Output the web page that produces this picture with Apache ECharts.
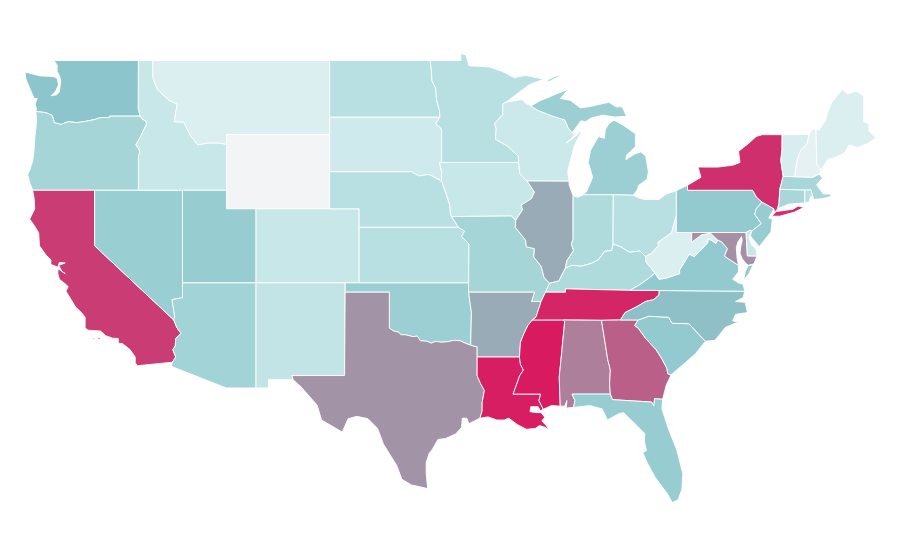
<!DOCTYPE html>
<html>
<head>
<meta charset="utf-8">
<title>US states</title>
<script src="https://cdn.jsdelivr.net/npm/echarts@6/dist/echarts.min.js"></script>
<style>
html, body { margin: 0; padding: 0; background: #fff; }
#map_chart { width: 900px; height: 560px; }
</style>
</head>
<body>
<div id="map_chart"></div>
<script>
var stateNames = ['Washington', 'Oregon', 'California', 'Nevada', 'Idaho', 'Montana', 'Wyoming', 'Utah', 'Arizona', 'Colorado', 'New Mexico',
    'North Dakota', 'South Dakota', 'Nebraska', 'Kansas', 'Oklahoma', 'Texas', 'Minnesota', 'Iowa', 'Missouri', 'Arkansas', 'Louisiana',
    'Wisconsin', 'Illinois', 'Mississippi', 'Michigan', 'Indiana', 'Ohio', 'Kentucky', 'Tennessee', 'Alabama', 'Georgia', 'Florida',
    'South Carolina', 'North Carolina', 'Virginia', 'West Virginia', 'Pennsylvania', 'Maryland', 'Delaware', 'New Jersey', 'New York',
    'Connecticut', 'Rhode Island', 'Massachusetts', 'Vermont', 'New Hampshire', 'Maine'];
var stateValues = [50, 38, 90, 44, 22, 12, 0, 45, 40, 22, 25,
    29, 19, 29, 29, 43, 65, 29, 22, 38, 58, 99,
    21, 58, 100, 43, 33, 29, 33, 97, 71, 80, 45,
    47, 52, 47, 12, 47, 66, 22, 45, 94,
    37, 30, 37, 14, 7, 12];
var colorStops = ['#f3f4f6', '#dff0f2', '#cde9eb', '#b6dee0', '#a2d3d6', '#8cc6cc', '#9ba4b2', '#ab829c', '#ba6088', '#c93d74', '#d81b60'];

// state borders in lon/lat, each one shared by the two states that touch it
var b = {
    wa_top: [[-122.76,49],[-117.03,49]],
    wa_coast: [[-122.76,49],[-122.55,48.75],[-122.55,48.4],[-122.4,48.2],[-122.3,47.9],[-122.35,47.6],[-122.4,47.3],[-122.6,47.15],[-122.95,47.1],[-122.65,47.35],[-122.45,47.7],[-122.55,48.05],[-122.75,48.12],[-123.1,48.15],[-123.7,48.17],[-124.73,48.38],[-124.65,47.95],[-124.35,47.4],[-124.1,46.95],[-123.9,46.95],[-124.05,46.65],[-123.95,46.4],[-124.0,46.25]],
    wa_or: [[-124.0,46.25],[-123.4,46.2],[-123.2,46.15],[-122.9,46.05],[-122.8,45.85],[-122.75,45.65],[-122.3,45.55],[-121.8,45.7],[-121.2,45.65],[-120.6,45.72],[-120.0,45.82],[-119.6,45.92],[-119.0,45.93],[-118.98,46.0],[-116.92,46.0]],
    wa_id: [[-117.03,49],[-117.04,46.42],[-116.92,46.0]],
    or_coast: [[-124.0,46.25],[-123.95,45.9],[-123.97,45.5],[-124.07,44.8],[-124.12,44.1],[-124.2,43.6],[-124.4,43.1],[-124.55,42.84],[-124.4,42.4],[-124.21,42]],
    or_ca: [[-124.21,42],[-120,42]],
    or_nv: [[-120,42],[-117.03,42]],
    or_id: [[-116.92,46],[-116.78,45.85],[-116.55,45.75],[-116.46,45.6],[-116.68,45.25],[-116.85,44.95],[-117.2,44.45],[-117.03,44.25],[-116.93,44.1],[-117.03,43.8],[-117.03,42]],
    ca_coast: [[-124.21,42],[-124.1,41.5],[-124.07,41.0],[-124.41,40.44],[-124.1,40.1],[-123.8,39.7],[-123.75,39.0],[-123.3,38.5],[-122.97,38.25],[-122.98,38.0],[-122.5,37.85],[-122.4,38.1],[-122.0,38.08],[-122.25,38.0],[-122.45,37.95],[-122.2,37.6],[-122.0,37.5],[-122.35,37.7],[-122.5,37.75],[-122.5,37.5],[-122.4,37.2],[-122.0,36.95],[-121.8,36.8],[-121.95,36.55],[-121.6,36.1],[-121.3,35.7],[-120.9,35.4],[-120.65,35.15],[-120.65,34.57],[-120.45,34.45],[-119.6,34.4],[-119.25,34.15],[-118.8,34.02],[-118.4,34.0],[-118.4,33.75],[-118.1,33.72],[-117.6,33.4],[-117.25,33.0],[-117.25,32.7],[-117.12,32.53]],
    ca_mx: [[-117.12,32.53],[-114.72,32.72]],
    ca_az: [[-114.72,32.72],[-114.5,33.0],[-114.7,33.4],[-114.53,33.6],[-114.5,34.0],[-114.14,34.27],[-114.43,34.6],[-114.63,35]],
    ca_nv: [[-114.63,35],[-120,39],[-120,42]],
    id_top: [[-117.03,49],[-116.05,49]],
    id_mt: [[-116.05,49],[-116.05,48.05],[-115.75,47.45],[-114.95,46.85],[-114.4,46.65],[-114.6,45.7],[-113.95,45.68],[-113.5,44.95],[-113.0,44.45],[-112.3,44.55],[-111.55,44.55],[-111.05,44.48]],
    id_wy: [[-111.05,44.48],[-111.05,42]],
    id_ut: [[-111.05,42],[-114.04,42]],
    id_nv: [[-114.04,42],[-117.03,42]],
    nv_ut: [[-114.04,42],[-114.04,37]],
    nv_az: [[-114.04,37],[-114.04,36.2],[-114.75,36.1],[-114.57,35.2],[-114.63,35]],
    az_ut: [[-114.04,37],[-109.05,37]],
    az_nm: [[-109.05,37],[-109.05,31.33]],
    az_mx: [[-109.05,31.33],[-111.07,31.33],[-114.81,32.5],[-114.72,32.72]],
    ut_wy: [[-111.05,42],[-111.05,41],[-109.05,41]],
    ut_co: [[-109.05,41],[-109.05,37]],
    mt_top: [[-116.05,49],[-104.05,49]],
    mt_nd: [[-104.05,49],[-104.05,45.94]],
    mt_sd: [[-104.05,45.94],[-104.05,45]],
    mt_wy: [[-104.05,45],[-111.05,45],[-111.05,44.48]],
    wy_sd: [[-104.05,45],[-104.05,43]],
    wy_ne: [[-104.05,43],[-104.05,41]],
    wy_co: [[-104.05,41],[-109.05,41]],
    co_ne: [[-104.05,41],[-102.05,41],[-102.05,40]],
    co_ks: [[-102.05,40],[-102.05,37]],
    co_ok: [[-102.05,37],[-103,37]],
    co_nm: [[-103,37],[-109.05,37]],
    nm_ok: [[-103,37],[-103,36.5]],
    nm_tx: [[-103,36.5],[-103.04,32],[-106.62,32],[-106.53,31.78]],
    nm_mx: [[-106.53,31.78],[-108.21,31.78],[-108.21,31.33],[-109.05,31.33]],
    nd_top: [[-104.05,49],[-97.23,49]],
    nd_mn: [[-97.23,49],[-97.15,48.5],[-97.1,47.9],[-96.85,47.5],[-96.8,46.9],[-96.6,46.3],[-96.56,45.94]],
    nd_sd: [[-96.56,45.94],[-104.05,45.94]],
    sd_mn: [[-96.56,45.94],[-96.85,45.6],[-96.45,45.3],[-96.45,43.5]],
    sd_ia: [[-96.45,43.5],[-96.6,43.5],[-96.45,43.0],[-96.45,42.49]],
    sd_ne: [[-96.45,42.49],[-96.7,42.6],[-97.3,42.85],[-98.0,42.77],[-98.5,43],[-104.05,43]],
    ne_ia: [[-96.45,42.49],[-96.1,41.7],[-95.9,41.2],[-95.85,40.7],[-95.77,40.58]],
    ne_mo: [[-95.77,40.58],[-95.31,40]],
    ne_ks: [[-95.31,40],[-102.05,40]],
    ks_mo: [[-95.31,40],[-94.9,39.8],[-95.1,39.5],[-94.6,39.1],[-94.62,37]],
    ks_ok: [[-94.62,37],[-102.05,37]],
    ok_mo: [[-94.62,37],[-94.62,36.5]],
    ok_ar: [[-94.62,36.5],[-94.43,35.4],[-94.48,33.64]],
    ok_tx: [[-94.48,33.64],[-94.85,33.75],[-95.2,33.88],[-95.6,33.9],[-96.1,33.82],[-96.5,33.8],[-96.85,33.85],[-97.15,33.75],[-97.45,33.85],[-97.9,33.88],[-98.1,34.13],[-98.4,34.1],[-98.9,34.2],[-99.2,34.2],[-99.4,34.35],[-99.7,34.4],[-100,34.56],[-100,36.5],[-103,36.5]],
    tx_ar: [[-94.48,33.64],[-94.04,33.55],[-94.04,33]],
    tx_la: [[-94.04,33],[-94.04,31.99],[-93.8,31.55],[-93.55,31.2],[-93.7,30.55],[-93.7,30.1],[-93.85,29.7]],
    tx_coast: [[-93.85,29.7],[-94.6,29.4],[-94.75,29.7],[-95.05,29.7],[-95.1,29.2],[-95.5,28.85],[-96.2,28.6],[-96.7,28.55],[-97.1,28.0],[-97.3,27.8],[-97.5,27.3],[-97.5,26.7],[-97.4,25.9]],
    tx_mx: [[-97.4,25.9],[-98.5,26.1],[-99.15,26.4],[-99.5,27.15],[-100.4,28.3],[-100.8,29.15],[-101.45,29.67],[-102.2,29.8],[-102.8,29.67],[-103.2,28.95],[-104.6,29.6],[-104.9,30.4],[-106.0,31.4],[-106.53,31.78]],
    mn_top: [[-97.23,49],[-95.15,49],[-95.15,49.38],[-94.8,49.3],[-94.6,48.72],[-93.2,48.65],[-92.3,48.4],[-91.5,48.07],[-90.8,48.2],[-89.5,48]],
    mn_lake: [[-89.5,48],[-90.5,47.7],[-91.5,47.1],[-92.1,46.75]],
    mn_wi: [[-92.1,46.75],[-92.3,46.66],[-92.3,46.1],[-92.85,45.6],[-92.75,45.3],[-92.8,44.75],[-92.0,44.4],[-91.25,43.85],[-91.22,43.5]],
    mn_ia: [[-91.22,43.5],[-96.45,43.5]],
    ia_wi: [[-91.22,43.5],[-91.15,42.9],[-90.65,42.5]],
    ia_il: [[-90.65,42.5],[-90.15,41.9],[-90.35,41.55],[-91.05,41.2],[-90.95,40.95],[-91.42,40.38]],
    ia_mo: [[-91.42,40.38],[-91.73,40.61],[-95.77,40.58]],
    mo_il: [[-91.42,40.38],[-91.45,40],[-90.75,39.3],[-90.7,38.95],[-90.15,38.85],[-90.2,38.4],[-89.7,37.9],[-89.5,37.3],[-89.13,36.98]],
    mo_ky: [[-89.13,36.98],[-89.4,36.5]],
    mo_tn: [[-89.4,36.5],[-89.7,36]],
    mo_ar: [[-89.7,36],[-90.35,36],[-90.15,36.5],[-94.62,36.5]],
    ar_tn: [[-89.7,36],[-90.05,35.15],[-90.3,35]],
    ar_ms: [[-90.3,35],[-90.6,34.7],[-90.9,34.2],[-91.1,33.8],[-91.17,33]],
    ar_la: [[-91.17,33],[-94.04,33]],
    la_ms: [[-91.17,33],[-91.1,32.6],[-90.9,32.3],[-91.15,32.0],[-91.6,31],[-89.73,31],[-89.85,30.65],[-89.55,30.18]],
    la_coast: [[-89.55,30.18],[-89.75,30.1],[-89.9,30.32],[-90.4,30.32],[-90.45,30.05],[-90.0,30.0],[-89.7,30.0],[-89.45,29.75],[-89.65,29.55],[-89.35,29.3],[-89.15,29.05],[-89.4,29.2],[-89.8,29.3],[-90.1,29.15],[-90.7,29.1],[-91.3,29.35],[-91.9,29.7],[-92.2,29.6],[-92.7,29.6],[-93.3,29.77],[-93.85,29.7]],
    ms_tn: [[-90.3,35],[-88.2,35]],
    ms_al: [[-88.2,35],[-88.1,34.9],[-88.47,31.9],[-88.4,30.35]],
    ms_coast: [[-88.4,30.35],[-89.0,30.38],[-89.55,30.18]],
    al_tn: [[-88.2,35],[-85.6,34.98]],
    al_ga: [[-85.6,34.98],[-85.18,32.87],[-85.0,32.3],[-85.05,31.55],[-85,31]],
    al_fl: [[-85,31],[-87.6,31],[-87.4,30.65],[-87.5,30.28]],
    al_coast: [[-87.5,30.28],[-88.0,30.25],[-87.95,30.65],[-88.1,30.35],[-88.4,30.35]],
    ga_tn: [[-85.6,34.98],[-84.32,35]],
    ga_nc: [[-84.32,35],[-83.11,35]],
    ga_sc: [[-83.11,35],[-83.35,34.7],[-83.1,34.55],[-82.6,34.0],[-81.9,33.4],[-81.5,32.9],[-81.17,32.4],[-81.1,32.1],[-80.88,32.03]],
    ga_coast: [[-80.88,32.03],[-81.2,31.5],[-81.3,31.2],[-81.45,30.72]],
    ga_fl: [[-81.45,30.72],[-82.0,30.75],[-82.05,30.36],[-82.2,30.57],[-84.86,30.7],[-85,31]],
    fl_coast: [[-81.45,30.72],[-81.5,30.2],[-81.05,29.1],[-80.5,28.0],[-80.08,26.7],[-80.15,25.85],[-80.4,25.3],[-80.8,25.15],[-81.15,25.65],[-81.95,26.5],[-82.5,27.3],[-82.8,27.85],[-82.55,27.95],[-82.7,28.5],[-82.65,28.85],[-83.2,29.3],[-84.1,30.0],[-84.4,29.95],[-85.2,29.6],[-85.55,30.2],[-86.4,30.38],[-87.5,30.28]],
    sc_nc: [[-83.11,35],[-82.4,35.2],[-81.05,35.15],[-80.8,34.82],[-79.67,34.8],[-78.55,33.85]],
    sc_coast: [[-78.55,33.85],[-79.2,33.2],[-79.9,32.7],[-80.5,32.3],[-80.88,32.03]],
    nc_va: [[-81.68,36.59],[-75.87,36.55]],
    nc_coast: [[-75.87,36.55],[-76.0,36.2],[-76.5,36.0],[-75.85,35.95],[-75.7,35.4],[-76.5,35.3],[-76.7,34.95],[-76.3,34.9],[-77.2,34.6],[-77.9,33.9],[-78.55,33.85]],
    nc_tn: [[-81.68,36.59],[-81.7,36.35],[-82.05,36.1],[-82.6,36.0],[-83.2,35.72],[-84.0,35.4],[-84.32,35]],
    tn_ky: [[-89.4,36.5],[-88.05,36.5],[-88.05,36.68],[-86.5,36.65],[-83.68,36.6]],
    tn_va: [[-83.68,36.6],[-81.68,36.59]],
    ky_va: [[-83.68,36.6],[-83.1,36.85],[-82.3,37.3],[-81.97,37.54]],
    ky_wv: [[-81.97,37.54],[-82.6,38.15],[-82.6,38.42]],
    ky_oh: [[-82.6,38.42],[-83.0,38.72],[-83.7,38.65],[-84.3,38.95],[-84.82,39.1]],
    ky_in: [[-84.82,39.1],[-84.9,38.75],[-85.4,38.7],[-85.8,38.25],[-86.3,38.05],[-87.0,37.9],[-87.6,37.95],[-88.05,37.8]],
    ky_il: [[-88.05,37.8],[-88.5,37.1],[-89.13,36.98]],
    il_wi: [[-90.65,42.5],[-87.8,42.49]],
    il_lake: [[-87.8,42.49],[-87.8,42.3],[-87.53,41.7]],
    il_in: [[-87.53,41.7],[-87.53,39.35],[-87.65,39.1],[-87.5,38.75],[-87.95,38.2],[-88.05,37.8]],
    wi_lake: [[-92.1,46.75],[-91.0,46.9],[-90.75,46.7],[-90.4,46.55]],
    wi_mi: [[-90.4,46.55],[-89.9,46.3],[-88.85,45.98],[-88.1,45.8],[-87.85,45.35],[-87.6,45.1]],
    wi_shore: [[-87.6,45.1],[-87.35,45.05],[-87.65,44.8],[-88.0,44.55],[-87.55,44.8],[-87.25,45.0],[-87.05,45.25],[-87.0,45.1],[-87.45,44.4],[-87.9,43.0],[-87.8,42.49]],
    in_lake: [[-87.53,41.7],[-87.2,41.62],[-86.82,41.76]],
    in_mi: [[-86.82,41.76],[-84.8,41.76]],
    in_oh: [[-84.8,41.76],[-84.82,39.1]],
    oh_mi: [[-84.8,41.76],[-83.45,41.73]],
    oh_lake: [[-83.45,41.73],[-83.1,41.6],[-82.7,41.5],[-81.7,41.5],[-81.2,41.8],[-80.52,41.98]],
    oh_pa: [[-80.52,41.98],[-80.52,40.64]],
    oh_wv: [[-80.52,40.64],[-80.85,39.7],[-81.75,39.2],[-81.75,39.0],[-82.2,38.6],[-82.6,38.42]],
    mi_east: [[-83.45,41.73],[-83.15,42.05],[-83.1,42.25],[-82.5,42.6],[-82.42,43.0],[-82.6,43.85],[-82.95,44.07],[-83.35,43.95],[-83.95,43.65],[-83.9,43.9],[-83.3,44.35],[-83.3,45.05],[-84.1,45.5],[-84.75,45.78]],
    mi_west: [[-84.75,45.78],[-85.1,45.6],[-85.35,45.25],[-85.4,44.8],[-85.8,44.9],[-86.35,44.15],[-86.5,43.5],[-86.2,42.7],[-86.6,41.95],[-86.82,41.76]],
    mi_up: [[-90.4,46.55],[-89.8,46.82],[-88.5,47.25],[-87.85,47.45],[-88.4,46.95],[-87.7,46.85],[-87.05,46.45],[-86.5,46.5],[-85.1,46.75],[-84.6,46.5],[-84.2,46.5],[-83.9,46.0],[-84.7,45.95],[-85.5,46.05],[-86.3,45.9],[-86.7,45.7],[-87.0,45.75],[-87.6,45.1]],
    wv_pa: [[-80.52,40.64],[-80.52,39.72],[-79.48,39.72]],
    wv_md: [[-79.48,39.72],[-79.48,39.2],[-78.8,39.6],[-78.2,39.68],[-77.72,39.32]],
    wv_va: [[-81.97,37.54],[-81.7,37.2],[-81.25,37.25],[-80.3,37.5],[-80.3,37.7],[-79.95,38.15],[-79.65,38.55],[-79.3,38.42],[-78.87,38.76],[-78.4,39.17],[-78.35,39.4],[-77.83,39.13],[-77.72,39.32]],
    va_md: [[-77.72,39.32],[-77.45,39.22],[-77.05,38.85],[-77.25,38.45],[-76.95,38.28],[-76.3,37.95]],
    va_coast: [[-76.3,37.95],[-76.3,37.6],[-76.7,37.2],[-76.3,37.0],[-76.0,36.93],[-75.87,36.55]],
    md_pa: [[-79.48,39.72],[-75.79,39.72]],
    de_md: [[-75.79,39.72],[-75.7,38.46],[-75.05,38.45]],
    md_coast: [[-75.05,38.45],[-75.25,38.03],[-75.65,37.95],[-75.85,38.1],[-76.05,38.3],[-76.2,38.6],[-76.15,38.95],[-76.05,39.3],[-76.1,39.5],[-76.35,39.2],[-76.45,38.9],[-76.4,38.35],[-76.3,37.95]],
    de_coast: [[-75.4,39.8],[-75.6,39.45],[-75.4,39.05],[-75.1,38.8],[-75.05,38.45]],
    pa_erie: [[-80.52,41.98],[-79.76,42.27]],
    ny_pa: [[-74.7,41.36],[-75.05,41.6],[-75.35,42],[-79.76,42],[-79.76,42.27]],
    pa_nj: [[-74.7,41.36],[-75.1,41.0],[-75.2,40.7],[-74.75,40.2],[-75.4,39.8]],
    pa_de: [[-75.4,39.8],[-75.5,39.83],[-75.79,39.72]],
    nj_coast: [[-75.4,39.8],[-75.5,39.55],[-75.15,39.2],[-74.9,38.95],[-74.1,39.75],[-74.0,40.45],[-74.25,40.5],[-73.9,41]],
    nj_ny: [[-73.9,41],[-74.7,41.36]],
    ny_top: [[-79.76,42.27],[-78.85,42.7],[-79.05,43.25],[-77.7,43.25],[-76.7,43.35],[-76.2,43.5],[-76.3,44.1],[-75.66,44.5],[-75.1,44.9],[-74.7,45.0],[-73.34,45]],
    ny_vt: [[-73.34,45],[-73.35,44.2],[-73.43,43.6],[-73.27,42.75]],
    ny_ma: [[-73.27,42.75],[-73.5,42.05]],
    ny_ct: [[-73.5,42.05],[-73.55,41.3],[-73.65,41]],
    ny_sound: [[-73.65,41],[-73.85,40.8],[-73.9,41]],
    ct_ma: [[-73.5,42.05],[-71.8,42.02]],
    ct_ri: [[-71.8,42.02],[-71.8,41.32]],
    ct_coast: [[-71.8,41.32],[-72.9,41.25],[-73.65,41]],
    ri_ma: [[-71.8,42.02],[-71.38,42.02],[-71.2,41.5]],
    ri_coast: [[-71.2,41.5],[-71.4,41.7],[-71.5,41.37],[-71.8,41.32]],
    ma_vt: [[-73.27,42.75],[-72.46,42.73]],
    ma_nh: [[-72.46,42.73],[-71.3,42.7],[-70.82,42.87]],
    ma_coast: [[-70.82,42.87],[-70.6,42.65],[-71.0,42.3],[-70.55,41.8],[-70.05,41.8],[-70.2,42.05],[-70.0,41.67],[-70.6,41.55],[-71.2,41.5]],
    vt_top: [[-73.34,45],[-71.5,45.01]],
    vt_nh: [[-71.5,45.01],[-71.65,44.5],[-72.05,44.2],[-72.3,43.7],[-72.45,43.0],[-72.46,42.73]],
    nh_top: [[-71.5,45.01],[-71.3,45.3]],
    nh_me: [[-71.3,45.3],[-71.05,45.3],[-70.98,43.4],[-70.7,43.08]],
    nh_coast: [[-70.7,43.08],[-70.82,42.87]],
    me_out: [[-71.3,45.3],[-70.85,45.25],[-70.4,45.75],[-70.25,46.2],[-70.0,46.7],[-69.25,47.45],[-68.9,47.2],[-68.3,47.35],[-67.8,47.07],[-67.8,45.7],[-67.45,45.6],[-67.45,45.2],[-66.97,44.82],[-67.6,44.5],[-68.2,44.3],[-68.8,44.45],[-69.1,44.0],[-69.8,43.75],[-70.25,43.65],[-70.7,43.08]]
};

// pieces listed in walking order, '-' means walk that border backwards
var stateRings = {
    'Washington': ['wa_top', 'wa_id', '-wa_or', '-wa_coast'],
    'Oregon': ['wa_or', 'or_id', '-or_nv', '-or_ca', '-or_coast'],
    'California': ['ca_coast', 'ca_mx', 'ca_az', 'ca_nv', '-or_ca'],
    'Nevada': ['or_nv', '-id_nv', 'nv_ut', 'nv_az', 'ca_nv'],
    'Idaho': ['id_top', 'id_mt', 'id_wy', 'id_ut', 'id_nv', '-or_id', '-wa_id'],
    'Montana': ['mt_top', 'mt_nd', 'mt_sd', 'mt_wy', '-id_mt'],
    'Wyoming': ['-mt_wy', 'wy_sd', 'wy_ne', 'wy_co', '-ut_wy', '-id_wy'],
    'Utah': ['-id_ut', 'ut_wy', 'ut_co', '-az_ut', '-nv_ut'],
    'Arizona': ['az_ut', 'az_nm', 'az_mx', 'ca_az', '-nv_az'],
    'Colorado': ['-wy_co', 'co_ne', 'co_ks', 'co_ok', 'co_nm', '-ut_co'],
    'New Mexico': ['-co_nm', 'nm_ok', 'nm_tx', 'nm_mx', '-az_nm'],
    'North Dakota': ['nd_top', 'nd_mn', 'nd_sd', '-mt_nd'],
    'South Dakota': ['-nd_sd', 'sd_mn', 'sd_ia', 'sd_ne', '-wy_sd', '-mt_sd'],
    'Nebraska': ['-sd_ne', 'ne_ia', 'ne_mo', 'ne_ks', '-co_ne', '-wy_ne'],
    'Kansas': ['-ne_ks', 'ks_mo', 'ks_ok', '-co_ks'],
    'Oklahoma': ['-nm_ok', '-co_ok', '-ks_ok', 'ok_mo', 'ok_ar', 'ok_tx'],
    'Texas': ['-ok_tx', 'tx_ar', 'tx_la', 'tx_coast', 'tx_mx', '-nm_tx'],
    'Minnesota': ['mn_top', 'mn_lake', 'mn_wi', 'mn_ia', '-sd_mn', '-nd_mn'],
    'Iowa': ['-mn_ia', 'ia_wi', 'ia_il', 'ia_mo', '-ne_ia', '-sd_ia'],
    'Missouri': ['-ia_mo', 'mo_il', 'mo_ky', 'mo_tn', 'mo_ar', '-ok_mo', '-ks_mo', '-ne_mo'],
    'Arkansas': ['-mo_ar', 'ar_tn', 'ar_ms', 'ar_la', '-tx_ar', '-ok_ar'],
    'Louisiana': ['-ar_la', 'la_ms', 'la_coast', '-tx_la'],
    'Mississippi': ['ms_tn', 'ms_al', 'ms_coast', '-la_ms', '-ar_ms'],
    'Alabama': ['al_tn', 'al_ga', 'al_fl', 'al_coast', '-ms_al'],
    'Georgia': ['ga_tn', 'ga_nc', 'ga_sc', 'ga_coast', 'ga_fl', '-al_ga'],
    'Florida': ['-al_fl', '-ga_fl', 'fl_coast'],
    'South Carolina': ['sc_nc', 'sc_coast', '-ga_sc'],
    'North Carolina': ['nc_va', 'nc_coast', '-sc_nc', '-ga_nc', '-nc_tn'],
    'Tennessee': ['tn_ky', 'tn_va', 'nc_tn', '-ga_tn', '-al_tn', '-ms_tn', '-ar_tn', '-mo_tn'],
    'Kentucky': ['-tn_ky', '-mo_ky', '-ky_il', '-ky_in', '-ky_oh', '-ky_wv', '-ky_va'],
    'Illinois': ['il_wi', 'il_lake', 'il_in', 'ky_il', '-mo_il', '-ia_il'],
    'Wisconsin': ['wi_lake', 'wi_mi', 'wi_shore', '-il_wi', '-ia_wi', '-mn_wi'],
    'Michigan': ['oh_mi', 'mi_east', 'mi_west', 'in_mi'],
    'Indiana': ['in_lake', 'in_mi', 'in_oh', 'ky_in', '-il_in'],
    'Ohio': ['oh_mi', 'oh_lake', 'oh_pa', 'oh_wv', 'ky_oh', '-in_oh'],
    'West Virginia': ['ky_wv', '-oh_wv', 'wv_pa', 'wv_md', '-wv_va'],
    'Virginia': ['ky_va', 'wv_va', 'va_md', 'va_coast', '-nc_va', '-tn_va'],
    'Pennsylvania': ['pa_erie', '-ny_pa', 'pa_nj', 'pa_de', '-md_pa', '-wv_pa', '-oh_pa'],
    'Maryland': ['md_pa', 'de_md', 'md_coast', '-va_md', '-wv_md'],
    'Delaware': ['-pa_de', 'de_coast', '-de_md'],
    'New Jersey': ['pa_nj', 'nj_coast', 'nj_ny'],
    'New York': ['ny_top', 'ny_vt', 'ny_ma', 'ny_ct', 'ny_sound', 'nj_ny', 'ny_pa'],
    'Connecticut': ['ct_ma', 'ct_ri', 'ct_coast', '-ny_ct'],
    'Rhode Island': ['ri_ma', 'ri_coast', '-ct_ri'],
    'Massachusetts': ['-ny_ma', 'ma_vt', 'ma_nh', 'ma_coast', '-ri_ma', '-ct_ma'],
    'Vermont': ['vt_top', 'vt_nh', '-ma_vt', '-ny_vt'],
    'New Hampshire': ['nh_top', 'nh_me', 'nh_coast', '-ma_nh', '-vt_nh'],
    'Maine': ['me_out', '-nh_me']
};

// islands and detached pieces
var extraParts = {
    'Michigan': [
        [[-89.2,47.85],[-88.45,48.17],[-88.6,48.2],[-89.25,47.95]]
    ],
    'California': [
        [[-120.25,33.98],[-120.05,34.03],[-119.95,33.95]],
        [[-119.9,34.05],[-119.55,34.03],[-119.7,33.95]]
    ],
    'Virginia': [
        [[-75.95,37.15],[-75.85,37.6],[-75.65,37.92],[-75.3,38.0],[-75.6,37.5]]
    ],
    'New York': [
        [[-74.05,40.6],[-73.75,40.85],[-72.6,40.98],[-72.25,41.15],[-71.87,41.07],[-72.5,40.82],[-73.5,40.6]]
    ]
};

function walk(pieces) {
    var out = [];
    pieces.forEach(function (p) {
        var back = p.charAt(0) === '-';
        var pts = b[back ? p.slice(1) : p].slice();
        if (back) pts.reverse();
        out = out.concat(out.length ? pts.slice(1) : pts);
    });
    return out;
}

function buildGeo() {
    var features = [];
    for (var i = 0; i < stateNames.length; i++) {
        var name = stateNames[i];
        var polys = [[walk(stateRings[name])]];
        if (name === 'Michigan') polys.push([walk(['mi_up', '-wi_mi'])]);
        (extraParts[name] || []).forEach(function (r) {
            polys.push([r]);
        });
        features.push({
            type: 'Feature',
            properties: { name: name },
            geometry: { type: 'MultiPolygon', coordinates: polys }
        });
    }
    return { type: 'FeatureCollection', features: features };
}

var seriesData = stateNames.map(function (n, i) {
    return { name: n, value: stateValues[i] };
});

echarts.registerMap('USA', buildGeo());
var map_chart = echarts.init(document.getElementById('map_chart'));
map_chart.setOption({
    animation: false,
    backgroundColor: '#fff',
    visualMap: {
        show: false,
        min: 0,
        max: 100,
        inRange: { color: colorStops }
    },
    series: [{
        type: 'map',
        map: 'USA',
        silent: true,
        roam: false,
        aspectScale: 0.795,
        left: 25,
        top: 53.5,
        width: 851,
        height: 449,
        label: { show: false },
        itemStyle: { borderColor: '#fff', borderWidth: 0.9 },
        data: seriesData
    }]
});
</script>
</body>
</html>
